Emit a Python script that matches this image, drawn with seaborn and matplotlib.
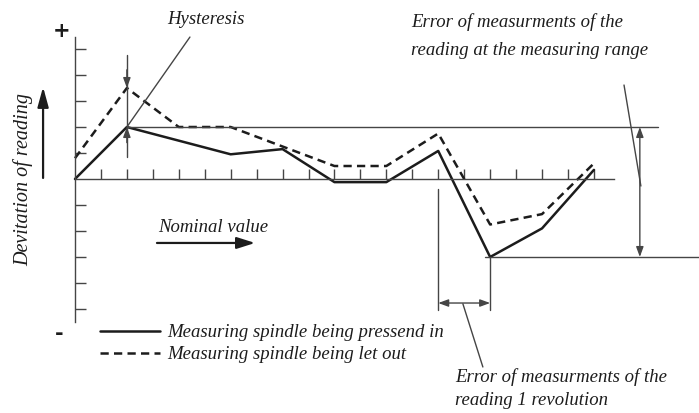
import matplotlib
matplotlib.use("Agg")
import matplotlib.pyplot as plt
import seaborn as sns
import pandas as pd

# Nominal-value steps and deviation readings (in scale divisions)
pressed_x = [0, 2, 6, 8, 10, 12, 14, 16, 18, 20]
pressed_y = [0, 2.0, 0.95, 1.15, -0.12, -0.12, 1.08, -3.0, -1.9, 0.35]
released_x = [0, 2, 4, 6, 10, 12, 14, 16, 18, 20]
released_y = [0.8, 3.5, 2.0, 2.0, 0.5, 0.5, 1.75, -1.75, -1.35, 0.6]

x_ticks = list(range(1, 21))
y_ticks = [-5, -4, -3, -2, -1, 1, 2, 3, 4, 5]

label_pressed = "Measuring spindle being pressend in"
label_released = "Measuring spindle being let out"

sns.set_theme(style="white")
plt.rcParams["font.family"] = ["Liberation Serif", "DejaVu Serif"]

INK = "#1c1c1c"
AXC = "#454545"
FS = 13.5

fig = plt.figure(figsize=(6.99, 4.13), dpi=100)
ax = fig.add_axes([0, 0, 1, 1])
ax.set_xlim(-2.89, 24.05)
ax.set_ylim(-9.0, 6.885)
ax.patch.set_alpha(0)

df_p = pd.DataFrame({"step": pressed_x, "dev": pressed_y})
df_r = pd.DataFrame({"step": released_x, "dev": released_y})
sns.lineplot(data=df_p, x="step", y="dev", ax=ax, color=INK, lw=1.8,
             sort=False, label=label_pressed)
sns.lineplot(data=df_r, x="step", y="dev", ax=ax, color=INK, lw=1.8,
             sort=False, dashes=False, linestyle=(0, (3.3, 2.1)),
             label=label_released)

# Axis lines with inward ticks
for side in ("top", "right"):
    ax.spines[side].set_visible(False)
ax.spines["left"].set_position(("data", 0))
ax.spines["bottom"].set_position(("data", 0))
ax.spines["left"].set_bounds(-5.5, 5.46)
ax.spines["bottom"].set_bounds(0, 20.77)
for side in ("left", "bottom"):
    ax.spines[side].set_color(AXC)
    ax.spines[side].set_linewidth(1.0)
ax.set_xticks(x_ticks)
ax.set_yticks(y_ticks)
ax.set_xticklabels([])
ax.set_yticklabels([])
ax.tick_params(axis="both", which="major", direction="in", color=AXC,
               width=1.0, bottom=True, left=True, top=False, right=False)
ax.tick_params(axis="y", length=8.0)
ax.tick_params(axis="x", length=7.2)
ax.set_xlabel("")
ax.set_ylabel("")

thin = dict(color=AXC, lw=1.0)

def arrow(tip, tail, style="-|>", hl=0.6, hw=0.22, lw=1.0, color=AXC):
    ax.annotate("", xy=tip, xytext=tail,
                arrowprops=dict(arrowstyle=f"{style},head_length={hl},head_width={hw}",
                                color=color, lw=lw, shrinkA=0, shrinkB=0,
                                mutation_scale=10))

# Hysteresis marker
ax.plot([2, 2], [0.85, 4.77], **thin)
arrow((2, released_y[1]), (2, 4.2))
arrow((2, pressed_y[1]), (2, 1.4))
ax.plot([4.43, 2], [5.46, 2.0], **thin)
ax.text(5.05, 6.12, "Hysteresis", style="italic", fontsize=FS, color=INK,
        ha="center", va="center")

# Error over the measuring range
ax.plot([2, 22.47], [2.0, 2.0], **thin)
ax.plot([15.8, 24.05], [-3.0, -3.0], **thin)
arrow((21.77, 2.0), (21.77, -3.0), style="<|-|>")
ax.plot([21.16, 21.81], [3.615, -0.27], **thin)
ax.text(12.95, 6.04, "Error of measurments of the", style="italic",
        fontsize=FS, color=INK, ha="left", va="center")
ax.text(12.95, 4.96, "reading at the measuring range", style="italic",
        fontsize=FS, color=INK, ha="left", va="center")

# Error over one revolution
ax.plot([14, 14], [-0.38, -5.04], **thin)
ax.plot([16, 16], [-3.0, -5.04], **thin)
arrow((14, -4.77), (16, -4.77), style="<|-|>")
ax.plot([14.95, 15.72], [-4.8, -7.23], **thin)
ax.text(14.64, -7.62, "Error of measurments of the", style="italic",
        fontsize=FS, color=INK, ha="left", va="center")
ax.text(14.64, -8.5, "reading 1 revolution", style="italic",
        fontsize=FS, color=INK, ha="left", va="center")

# Axis captions
arrow((6.94, -2.46), (3.16, -2.46), hl=1.1, hw=0.35, lw=1.6, color=INK)
ax.text(3.2, -1.88, "Nominal value", style="italic", fontsize=FS, color=INK,
        ha="left", va="center")
arrow((-1.23, 3.54), (-1.23, 0.04), hl=1.2, hw=0.33, lw=1.6, color=INK)
ax.text(-1.99, 0.0, "Devitation of reading", style="italic", fontsize=14.5,
        color=INK, ha="center", va="center", rotation=90)
ax.text(-0.5, 5.7, "+", fontsize=15, fontweight="bold", color=INK,
        ha="center", va="center", family="DejaVu Sans")
ax.text(-0.62, -5.95, "-", fontsize=15, fontweight="bold", color=INK,
        ha="center", va="center", family="DejaVu Sans")

leg = ax.legend(loc="upper left", bbox_to_anchor=(0.1436, 0.215), frameon=False,
                fontsize=FS, handlelength=3.2, handletextpad=0.35,
                labelspacing=0.25, borderaxespad=0, borderpad=0)
for t in leg.get_texts():
    t.set_style("italic")
    t.set_color(INK)

fig.savefig("out.png", dpi=100)
